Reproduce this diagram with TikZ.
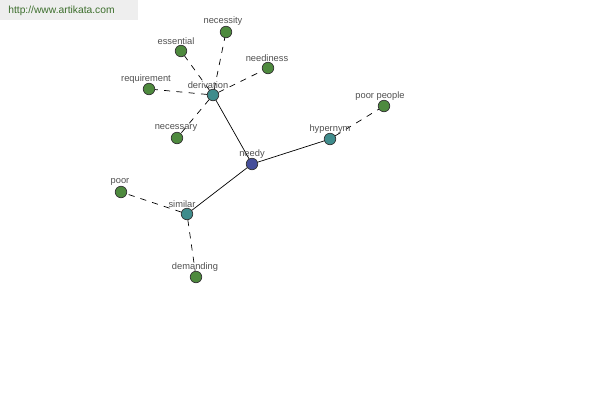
\documentclass[tikz,border=0pt]{standalone}
\usepackage{fontspec}
\setmainfont{Liberation Sans}
\usepackage{xcolor}
\usetikzlibrary{positioning}
\definecolor{leafgreen}{HTML}{4E8A3E}
\definecolor{hubteal}{HTML}{3F8C8C}
\definecolor{rootblue}{HTML}{454E9A}
\definecolor{labelgray}{HTML}{505050}
\definecolor{markgreen}{HTML}{3C6E2C}
\tikzset{
    word/.style={circle, inner sep=0pt, minimum size=0.23cm, draw=black!80, line width=0.4pt},
    leaf/.style={word, fill=leafgreen},
    hub/.style={word, fill=hubteal},
    root/.style={word, fill=rootblue},
    tag/.style={text=labelgray, font=\fontsize{5.3}{6}\selectfont, inner sep=0pt},
    rel/.style={line width=0.4pt},
    syn/.style={line width=0.4pt, dash pattern=on 3.5pt off 3.5pt}
}

\begin{document}
\begin{tikzpicture}[x=0.02cm, y=-0.02cm]
    \useasboundingbox (0,0) rectangle (600,400);
    \fill[gray!13] (0,0) rectangle (138,20);
    \node (site) [anchor=west, inner sep=0pt, text=markgreen, font=\fontsize{5.85}{7}\selectfont] at (8,11) {http://www.artikata.com};

    \node (needy) [root] at (252,164) {};
    \node (deriv) [hub] at (213,95) {};
    \node (hyper) [hub] at (330,139) {};
    \node (simil) [hub] at (187,214) {};
    \node (necessity) [leaf] at (226,32) {};
    \node (essential) [leaf] at (181,51) {};
    \node (neediness) [leaf] at (268,68) {};
    \node (requirement) [leaf] at (149,89) {};
    \node (necessary) [leaf] at (177,138) {};
    \node (poorpeople) [leaf] at (384,106) {};
    \node (poor) [leaf] at (121,192) {};
    \node (demanding) [leaf] at (196,277) {};

    \draw [rel] (needy) -- (deriv);
    \draw [rel] (needy) -- (hyper);
    \draw [rel] (needy) -- (simil);
    \draw [syn] (deriv) -- (necessity);
    \draw [syn] (deriv) -- (essential);
    \draw [syn] (deriv) -- (neediness);
    \draw [syn] (deriv) -- (requirement);
    \draw [syn] (deriv) -- (necessary);
    \draw [syn] (hyper) -- (poorpeople);
    \draw [syn] (simil) -- (poor);
    \draw [syn] (simil) -- (demanding);

    % labels over the dots
    \node (tneedy) [tag] at (252,154) {needy};
    \node (tderiv) [tag] at (208,85) {derivation};
    \node (thyper) [tag] at (330,129) {hypernym};
    \node (tsimil) [tag] at (182,204) {similar};
    \node (tnecessity) [tag] at (223,21) {necessity};
    \node (tessential) [tag] at (176,41) {essential};
    \node (tneediness) [tag] at (267,58) {neediness};
    \node (trequirement) [tag] at (146,79) {requirement};
    \node (tnecessary) [tag] at (176,128) {necessary};
    \node (tpoorpeople) [tag] at (380,96) {poor people};
    \node (tpoor) [tag] at (120,182) {poor};
    \node (tdemanding) [tag] at (195,267) {demanding};
\end{tikzpicture}
\end{document}
